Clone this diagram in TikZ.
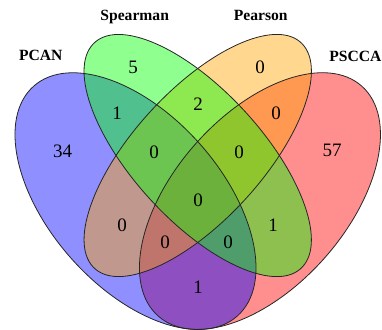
\documentclass[tikz,border=0pt]{standalone}
\usepackage{fontspec}
\setmainfont{Liberation Serif}
\definecolor{setred}{RGB}{255,0,0}
\definecolor{setblue}{RGB}{0,0,255}
\definecolor{setorange}{RGB}{255,165,0}
\definecolor{setgreen}{RGB}{0,255,0}
\begin{document}
\begin{tikzpicture}[x=1pt,y=1pt,
  setfill/.style={fill=#1,fill opacity=0.44,draw=none},
  outline/.style={draw=black!85,line width=0.8pt},
  catlabel/.style={font=\fontsize{15.6}{16}\selectfont\bfseries,anchor=base,inner sep=0pt},
  count/.style={font=\fontsize{19}{19}\selectfont,inner sep=0pt}]
\useasboundingbox (0,0) rectangle (382,-329);
\begin{scope}[yscale=-1.065]
  \coordinate (cA) at (135.5,188.8);
  \coordinate (cB) at (197.7,146.0);
  \coordinate (cC) at (197.7,146.0);
  \coordinate (cD) at (259.9,188.8);
  % fills, drawn in the order red, blue, orange, green
  \fill[setfill=setred, rotate around={-45:(cD)}] (cD) ellipse [x radius=148.5, y radius=83.6];
  \fill[setfill=setblue, rotate around={45:(cA)}] (cA) ellipse [x radius=148.5, y radius=83.6];
  \fill[setfill=setorange, rotate around={-45:(cC)}] (cC) ellipse [x radius=148, y radius=62.7];
  \fill[setfill=setgreen, rotate around={45:(cB)}] (cB) ellipse [x radius=148, y radius=62.7];
  % outlines
  \draw[outline, rotate around={-45:(cD)}] (cD) ellipse [x radius=148.5, y radius=83.6];
  \draw[outline, rotate around={45:(cA)}] (cA) ellipse [x radius=148.5, y radius=83.6];
  \draw[outline, rotate around={-45:(cC)}] (cC) ellipse [x radius=148, y radius=62.7];
  \draw[outline, rotate around={45:(cB)}] (cB) ellipse [x radius=148, y radius=62.7];
\end{scope}
% category labels
\node[catlabel] (lA) at (40.8,-60.7) {PCAN};
\node[catlabel] (lB) at (134.7,-20.5) {Spearman};
\node[catlabel] (lC) at (260.8,-20.5) {Pearson};
\node[catlabel,anchor=base east] (lD) at (381.5,-61) {PSCCA};
% region counts
\node[count] (nA) at (62.5,-151) {34};
\node[count] (nB) at (133,-67) {5};
\node[count] (nC) at (260,-67) {0};
\node[count] (nD) at (332,-150) {57};
\node[count] (nAB) at (117,-113) {1};
\node[count] (nBC) at (198,-104) {2};
\node[count] (nCD) at (276,-113) {0};
\node[count] (nABC) at (154,-152) {0};
\node[count] (nBCD) at (239,-152) {0};
\node[count] (nABCD) at (198,-200) {0};
\node[count] (nAC) at (122,-225) {0};
\node[count] (nBD) at (273,-225) {1};
\node[count] (nACD) at (165,-242) {0};
\node[count] (nABD) at (228,-242) {0};
\node[count] (nAD) at (198,-287) {1};
\end{tikzpicture}
\end{document}
